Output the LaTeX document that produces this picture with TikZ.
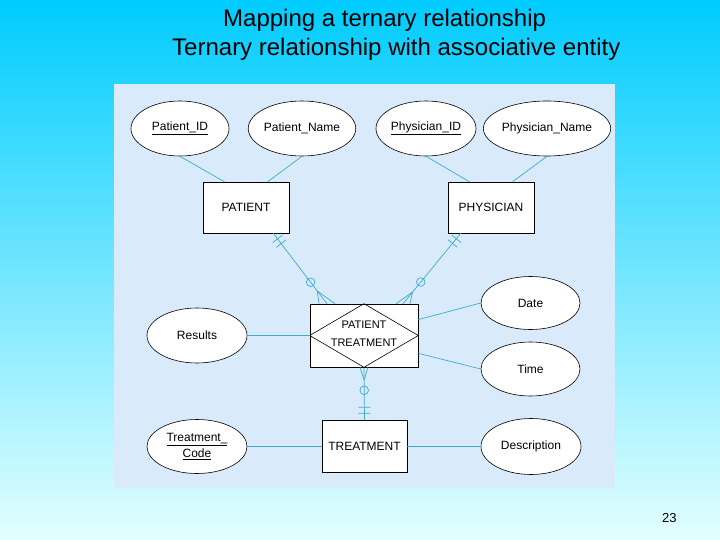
\documentclass[tikz,border=0pt]{standalone}
\usepackage{fontspec}
\setmainfont{Liberation Sans}
\usetikzlibrary{shapes.geometric,calc}
\definecolor{connc}{RGB}{60,170,210}
\definecolor{panelc}{RGB}{217,235,250}
\definecolor{bgtop}{RGB}{0,204,255}
\definecolor{bgbot}{RGB}{228,255,255}
\tikzset{
  connline/.style={draw=connc, line width=0.7pt},
  attr/.style={ellipse, draw=black, line width=0.6pt, fill=white, inner sep=0pt,
    minimum width=100pt, minimum height=55pt, font=\fontsize{12}{14}\selectfont, align=center},
  ent/.style={rectangle, draw=black, line width=0.6pt, fill=white, inner sep=0pt,
    minimum width=86pt, minimum height=51pt, font=\fontsize{12}{14}\selectfont, align=center},
  titletext/.style={inner sep=0pt, anchor=base west, font=\fontsize{24}{27}\selectfont}
}
\newcommand\crowrel[5]{%
  \draw[connline] (#1) -- (#2);
  \coordinate (crA) at ($(#1)!7pt!(#2)$);
  \coordinate (crB) at ($(#1)!13pt!(#2)$);
  \draw[connline] ($(crA)!6pt!90:(#2)$) -- ($(crA)!6pt!-90:(#2)$);
  \draw[connline] ($(crB)!6pt!90:(#2)$) -- ($(crB)!6pt!-90:(#2)$);
  \coordinate (crC) at ($(#2)!#3!(#1)$);
  \draw[connline] (crC) circle (4.3pt);
  \coordinate (crD) at ($(#2)!#4!(#1)$);
  \draw[connline] ($(#2)+(-#5,0)$) -- (crD) -- ($(#2)+(#5,0)$);
}
\begin{document}
\begin{tikzpicture}[x=1pt, y=-1pt]
\useasboundingbox (0,0) rectangle (720,540);
\shade[top color=bgtop, bottom color=bgbot] (0,0) rectangle (720,540);
\fill[panelc] (114,84) rectangle (615,488);

\node[titletext] (t1) at (223,27) {Mapping a ternary relationship};
\node[titletext] (t2) at (172,56) {Ternary relationship with associative entity};
\node[inner sep=0pt, anchor=base west, font=\fontsize{13}{15}\selectfont] (pg) at (662,522) {23};

% attributes
\node[attr, minimum width=98pt] (pid) at (180,128.5) {\underline{Patient\_ID}};
\node[attr, minimum width=98pt] (pname) at (302,128.5) {Patient\_Name};
\node[attr] (phid) at (426,128.5) {\underline{Physician\_ID}};
\node[attr] (phname) at (547,128.5) {Physician\_Name};
\node[attr, minimum width=99pt, minimum height=53pt] (date) at (530.5,303) {Date};
\node[attr, minimum width=99pt, minimum height=54pt] (time) at (530.5,369) {Time};
\node[attr] (results) at (197,335.5) {Results};
\node[attr, minimum height=54pt] (tcode) at (197,446.5) {\underline{Treatment\_}\\[2pt]\underline{Code}};
\node[attr, minimum height=56pt] (desc) at (531,446.5) {Description};

% entities
\node[ent] (patient) at (246,207.5) {PATIENT};
\node[ent] (physician) at (491,207.5) {PHYSICIAN};
\node[ent, minimum width=85pt, minimum height=52pt] (treatment) at (364.5,446.5) {TREATMENT};
\node[ent, minimum width=108pt, minimum height=63pt] (pt) at (364,335.5) {};
\draw[line width=0.6pt] (pt.west) -- (pt.north) -- (pt.east) -- (pt.south) -- cycle;
\node[inner sep=0pt, align=center, font=\fontsize{11}{17.5}\selectfont] (ptlabel) at (364,333.5) {PATIENT\\TREATMENT};

% attribute connectors
\draw[connline] (pid.south) -- ($(patient.north west)!0.25!(patient.north east)$);
\draw[connline] (pname.south) -- ($(patient.north west)!0.75!(patient.north east)$);
\draw[connline] (phid.south) -- ($(physician.north west)!0.25!(physician.north east)$);
\draw[connline] (phname.south) -- ($(physician.north west)!0.75!(physician.north east)$);
\draw[connline] (results.east) -- (pt.west);
\draw[connline] ($(pt.north east)!0.25!(pt.south east)$) -- (date.west);
\draw[connline] ($(pt.north east)!0.78!(pt.south east)$) -- (time.west);
\draw[connline] (tcode.east) -- (treatment.west);
\draw[connline] (treatment.east) -- (desc.west);

% relationship connectors
\coordinate (pA) at ($(patient.south east)+(-16,0)$);
\coordinate (pB) at ($(pt.north)+(-37,0)$);
\crowrel{pA}{pB}{27pt}{16pt}{8}
\coordinate (phA) at ($(physician.south west)+(13,0)$);
\coordinate (phB) at ($(pt.north)+(39,0)$);
\crowrel{phA}{phB}{28pt}{15pt}{7}
\crowrel{treatment.north}{pt.south}{23pt}{13pt}{4}
\end{tikzpicture}
\end{document}
